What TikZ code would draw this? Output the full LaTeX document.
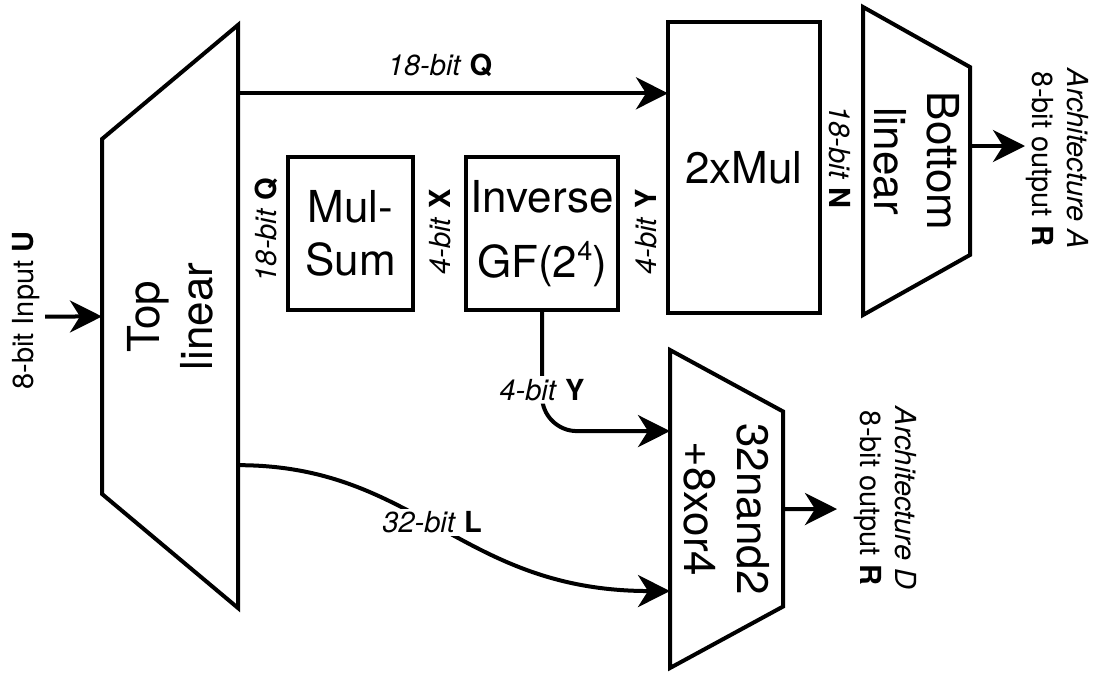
\documentclass[tikz,border=0pt]{standalone}
\usepackage{fontspec}
\setmainfont{TeX Gyre Heros}
\usepackage{tikz}
\usetikzlibrary{arrows.meta, positioning, shapes.geometric, calc}

\begin{document}
\begin{tikzpicture}[x=1pt, y=1pt, >={Stealth[length=32pt, width=32pt, inset=10pt]}, line width=4pt,
  big/.style={font=\fontsize{44}{53}\selectfont},
  small/.style={font=\fontsize{29}{35}\selectfont},
  block/.style={draw, rectangle, big, align=center, inner sep=2pt, outer sep=0pt},
  trap/.style={draw, trapezium, trapezium stretches body, big, align=center, inner sep=2pt, outer sep=0pt},
  tag/.style={small, align=center, inner sep=3pt}]
  \useasboundingbox (0,0) rectangle (1094,-672);
  \node[trap, rotate=90, trapezium angle=38.2, minimum width=583pt, minimum height=136pt] (top) at (170,-316.5) {Top\\linear};
  \node[block, minimum width=125pt, minimum height=153pt] (mulsum) at (350.5,-233.5) {Mul-\\Sum};
  \node[block, minimum width=152pt, minimum height=153pt, right=53pt of mulsum] (inv) {Inverse\\[12pt]GF(2\raisebox{17pt}{\fontsize{27}{27}\selectfont 4})};
  \node[block, minimum width=152pt, minimum height=291pt] (mul) at (744,-167.5) {2xMul};
  \node[trap, rotate=-90, trapezium angle=56.2, minimum width=308pt, minimum height=107pt] (bot) at (916.5,-161) {Bottom\\linear};
  \node[trap, rotate=-90, trapezium angle=55.6, minimum width=318pt, minimum height=113pt] (gates) at (726.5,-509) {32nand2\\+8xor4};

  \node[tag, rotate=90] (ulbl) at (26,-310.5) {8-bit Input \textbf{U}};
  \node[tag, rotate=90] (qlbl) at (266,-230) {\textit{18-bit} \textbf{Q}};
  \node[tag, rotate=90] (xlbl) at (440,-232) {\textit{4-bit} \textbf{X}};
  \node[tag, rotate=90] (ylbl) at (646,-232) {\textit{4-bit} \textbf{Y}};
  \node[tag, rotate=-90] (nlbl) at (840,-157) {\textit{18-bit} \textbf{N}};
  \node[tag, rotate=-90] (archA) at (1057,-159) {\textit{Architecture A}\\8-bit output \textbf{R}};
  \node[tag, rotate=-90] (archD) at (885,-498) {\textit{Architecture D}\\8-bit output \textbf{R}};

  \coordinate (uin) at (45,-316.5);
  \coordinate (outA) at (1025,-146);
  \coordinate (outD) at (837,-509);
  \coordinate (qin) at ($(mul.north west)!.245!(mul.south west)$);
  \coordinate (yin) at ($(gates.bottom left corner)!.255!(gates.bottom right corner)$);
  \coordinate (lin) at ($(gates.bottom left corner)!.758!(gates.bottom right corner)$);
  \coordinate (lout) at ($(top.bottom right corner)!.755!(top.bottom left corner)$);

  \draw[->] (uin) -- (top.north);
  \draw[->] (top.south |- qin) -- node[tag, above=12pt, pos=.47]{\textit{18-bit} \textbf{Q}} (qin);
  \draw[->, rounded corners=35pt] (inv.south) |- node[tag, fill=white, pos=.33]{\textit{4-bit} \textbf{Y}} (yin);
  \draw[->] (lout) .. controls +(180,0) and +(-210,0) .. node[tag, fill=white, pos=.47]{\textit{32-bit} \textbf{L}} (lin);
  \draw[->] (bot.north |- outA) -- (outA);
  \draw[->] (gates.north) -- (outD);
\end{tikzpicture}
\end{document}
